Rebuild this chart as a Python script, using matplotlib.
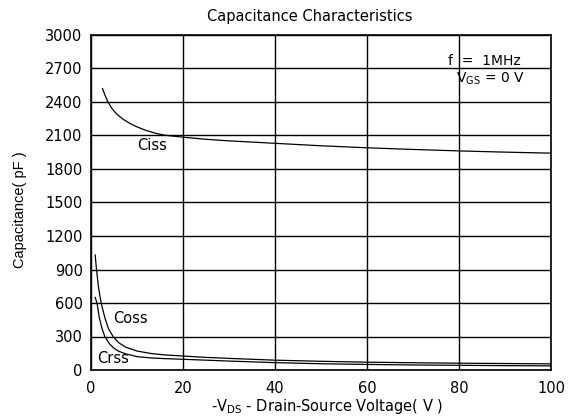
import matplotlib
matplotlib.use("Agg")
import matplotlib.pyplot as plt

plt.rcParams['font.family'] = ['DejaVu Sans']

# Data
ciss_v = [2.5, 3.0, 3.7, 4.5, 5.5, 7, 8.5, 10, 12, 14, 16, 20, 25, 30, 40, 50, 60, 70, 80, 90, 100]
ciss_c = [2520, 2465, 2400, 2345, 2295, 2245, 2207, 2177, 2145, 2120, 2103, 2085, 2066, 2052, 2030, 2008, 1990, 1975, 1962, 1951, 1942]

coss_v = [0.9, 1.2, 1.6, 2.2, 3.0, 3.8, 4.8, 6, 7.5, 10, 13, 16, 20, 25, 30, 40, 50, 60, 70, 80, 90, 100]
coss_c = [1030, 900, 750, 600, 470, 370, 300, 245, 205, 170, 148, 135, 125, 113, 104, 88, 78, 70, 65, 61, 58, 55]

crss_v = [0.9, 1.3, 1.8, 2.4, 3.0, 4.0, 5.0, 6, 7.5, 10, 13, 16, 20, 25, 30, 40, 50, 60, 70, 80, 90, 100]
crss_c = [650, 600, 470, 370, 300, 235, 195, 168, 145, 120, 108, 102, 96, 88, 80, 66, 56, 50, 45, 42, 39, 37]

x_ticks = [0, 20, 40, 60, 80, 100]
y_ticks = [0, 300, 600, 900, 1200, 1500, 1800, 2100, 2400, 2700, 3000]

fig = plt.figure(figsize=(5.77, 4.2), dpi=100)
ax = fig.add_axes([91/577, 1-370/420, 460/577, 335/420])

for v, c in [(ciss_v, ciss_c), (coss_v, coss_c), (crss_v, crss_c)]:
    ax.plot(v, c, color='black', lw=0.9, zorder=3)

ax.set_xlim(0, 100)
ax.set_ylim(0, 3000)
ax.set_xticks(x_ticks)
ax.set_yticks(y_ticks)
ax.grid(True, color='black', lw=1.0)
ax.tick_params(length=0, labelsize=10.5)
ax.tick_params(axis='y', pad=6)
ax.tick_params(axis='x', pad=8)
for s in ax.spines.values():
    s.set_linewidth(1.2)
    s.set_color('black')

fig.text(310/577, 1-17/420, 'Capacitance Characteristics', ha='center', va='center', fontsize=10.5)
fig.text(327/577, 1-406/420, r'-V$_{\mathregular{DS}}$ - Drain-Source Voltage( V )', ha='center', va='center', fontsize=10.5)
fig.text(20/577, 1-210/420, 'Capacitance( pF )', ha='center', va='center', rotation=90,
         fontsize=10.5, family='Liberation Sans')

ax.text(77.6, 2730, 'f  =  1MHz', ha='left', va='baseline', fontsize=10)
ax.text(79.4, 2575, r'V$_{\mathregular{GS}}$ = 0 V', ha='left', va='baseline', fontsize=10)
ax.text(10.0, 2012, 'Ciss', ha='left', va='center', fontsize=10.5)
ax.text(4.9, 461, 'Coss', ha='left', va='center', fontsize=10.5)
ax.text(1.35, 103, 'Crss', ha='left', va='center', fontsize=10.5)

fig.savefig('out.png', dpi=100)
